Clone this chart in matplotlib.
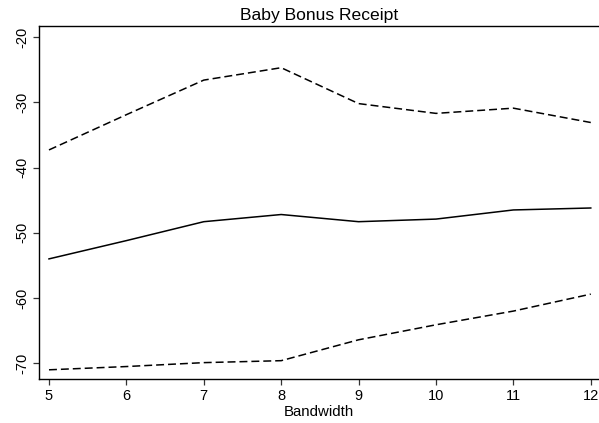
import matplotlib
matplotlib.use("Agg")
import matplotlib.pyplot as plt

plt.rcParams['font.family'] = ['Liberation Sans', 'DejaVu Sans']

# RD estimates by bandwidth, with upper / lower confidence bounds
bandwidth = [5, 6, 7, 8, 9, 10, 11, 12]
estimate = [-54.0, -51.2, -48.3, -47.2, -48.3, -47.9, -46.5, -46.2]
upper_ci = [-37.3, -31.9, -26.6, -24.7, -30.2, -31.7, -30.9, -33.1]
lower_ci = [-71.0, -70.5, -69.9, -69.6, -66.4, -64.1, -62.0, -59.4]

x_ticks = [5, 6, 7, 8, 9, 10, 11, 12]
y_ticks = [-70, -60, -50, -40, -30, -20]

fig = plt.figure(figsize=(5.99, 4.23), dpi=100)
ax = fig.add_axes([0.0651, 0.104, 0.935, 0.8345])

dash = (0, (5.2, 2.6))
ax.plot(bandwidth, upper_ci, color='black', lw=1.1, linestyle=dash)
ax.plot(bandwidth, estimate, color='black', lw=1.1)
ax.plot(bandwidth, lower_ci, color='black', lw=1.1, linestyle=dash)

ax.set_xlim(4.871, 12.107)
ax.set_ylim(-72.41, -18.31)
ax.set_xticks(x_ticks)
ax.set_yticks(y_ticks)
ax.set_yticklabels([str(v) for v in y_ticks], rotation=90, va='center')
ax.tick_params(axis='both', direction='out', length=4.3, width=0.9,
               labelsize=10.5, color='#333333')
ax.tick_params(axis='x', pad=3)
ax.tick_params(axis='y', pad=2.5)

for side in ['left', 'top', 'bottom']:
    ax.spines[side].set_linewidth(1.0)
ax.spines['right'].set_visible(False)

ax.set_xlabel('Bandwidth', fontsize=10.8, labelpad=1)
ax.set_title('Baby Bonus Receipt', fontsize=12.6, pad=4)

fig.savefig('out.png', dpi=100, facecolor='white')
